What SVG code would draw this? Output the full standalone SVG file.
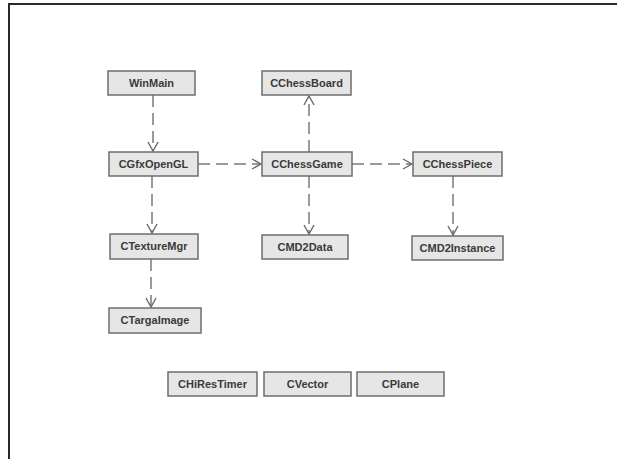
<svg xmlns="http://www.w3.org/2000/svg" width="617" height="459" viewBox="0 0 617 459">
<style>
.box{fill:#e6e6e6;stroke:#6e6e6e;stroke-width:1.5}
.lbl{font-family:"Liberation Sans",Arial,sans-serif;font-weight:bold;font-size:11px;fill:#3a3a3a;text-anchor:middle}
.dep{fill:none;stroke:#7a7a7a;stroke-width:1.5;stroke-dasharray:12 6}
</style>
<defs>
<marker id="open" markerWidth="12" markerHeight="12" refX="10" refY="6" orient="auto" markerUnits="userSpaceOnUse">
<path d="M1,1 L10,6 L1,11" fill="none" stroke="#6a6a6a" stroke-width="1.4"/>
</marker>
</defs>
<rect width="617" height="459" fill="#ffffff"/>
<path d="M9,459 V4 H617" fill="none" stroke="#2a2a2a" stroke-width="2"/>
<g id="connectors">
<line class="dep" x1="153" y1="95" x2="153" y2="151" marker-end="url(#open)"/>
<line class="dep" x1="198" y1="164" x2="261" y2="164" marker-end="url(#open)"/>
<line class="dep" x1="152" y1="176" x2="152" y2="233" marker-end="url(#open)"/>
<line class="dep" x1="151" y1="259" x2="151" y2="307" marker-end="url(#open)"/>
<line class="dep" x1="309" y1="152" x2="309" y2="96" marker-end="url(#open)"/>
<line class="dep" x1="352" y1="164" x2="412" y2="164" marker-end="url(#open)"/>
<line class="dep" x1="309" y1="176" x2="309" y2="234" marker-end="url(#open)"/>
<line class="dep" x1="453" y1="176" x2="453" y2="235" marker-end="url(#open)"/>
</g>
<g id="WinMain"><rect class="box" x="108" y="71" width="87" height="24"/><text class="lbl" x="151.5" y="87">WinMain</text></g>
<g id="CChessBoard"><rect class="box" x="262" y="71" width="89" height="24"/><text class="lbl" x="306.5" y="87">CChessBoard</text></g>
<g id="CGfxOpenGL"><rect class="box" x="109" y="152" width="89" height="24"/><text class="lbl" x="153.5" y="168">CGfxOpenGL</text></g>
<g id="CChessGame"><rect class="box" x="262" y="152" width="90" height="24"/><text class="lbl" x="307" y="168">CChessGame</text></g>
<g id="CChessPiece"><rect class="box" x="413" y="152" width="89" height="24"/><text class="lbl" x="457.5" y="168">CChessPiece</text></g>
<g id="CTextureMgr"><rect class="box" x="110" y="234" width="88" height="25"/><text class="lbl" x="154" y="250">CTextureMgr</text></g>
<g id="CMD2Data"><rect class="box" x="262" y="235" width="86" height="24"/><text class="lbl" x="305" y="251">CMD2Data</text></g>
<g id="CMD2Instance"><rect class="box" x="412" y="236" width="91" height="24"/><text class="lbl" x="457.5" y="252">CMD2Instance</text></g>
<g id="CTargaImage"><rect class="box" x="109" y="308" width="92" height="25"/><text class="lbl" x="155" y="324">CTargaImage</text></g>
<g id="CHiResTimer"><rect class="box" x="168" y="372" width="89" height="24"/><text class="lbl" x="212.5" y="388">CHiResTimer</text></g>
<g id="CVector"><rect class="box" x="264" y="372" width="87" height="24"/><text class="lbl" x="307.5" y="388">CVector</text></g>
<g id="CPlane"><rect class="box" x="357" y="372" width="87" height="24"/><text class="lbl" x="400.5" y="388">CPlane</text></g>
</svg>
